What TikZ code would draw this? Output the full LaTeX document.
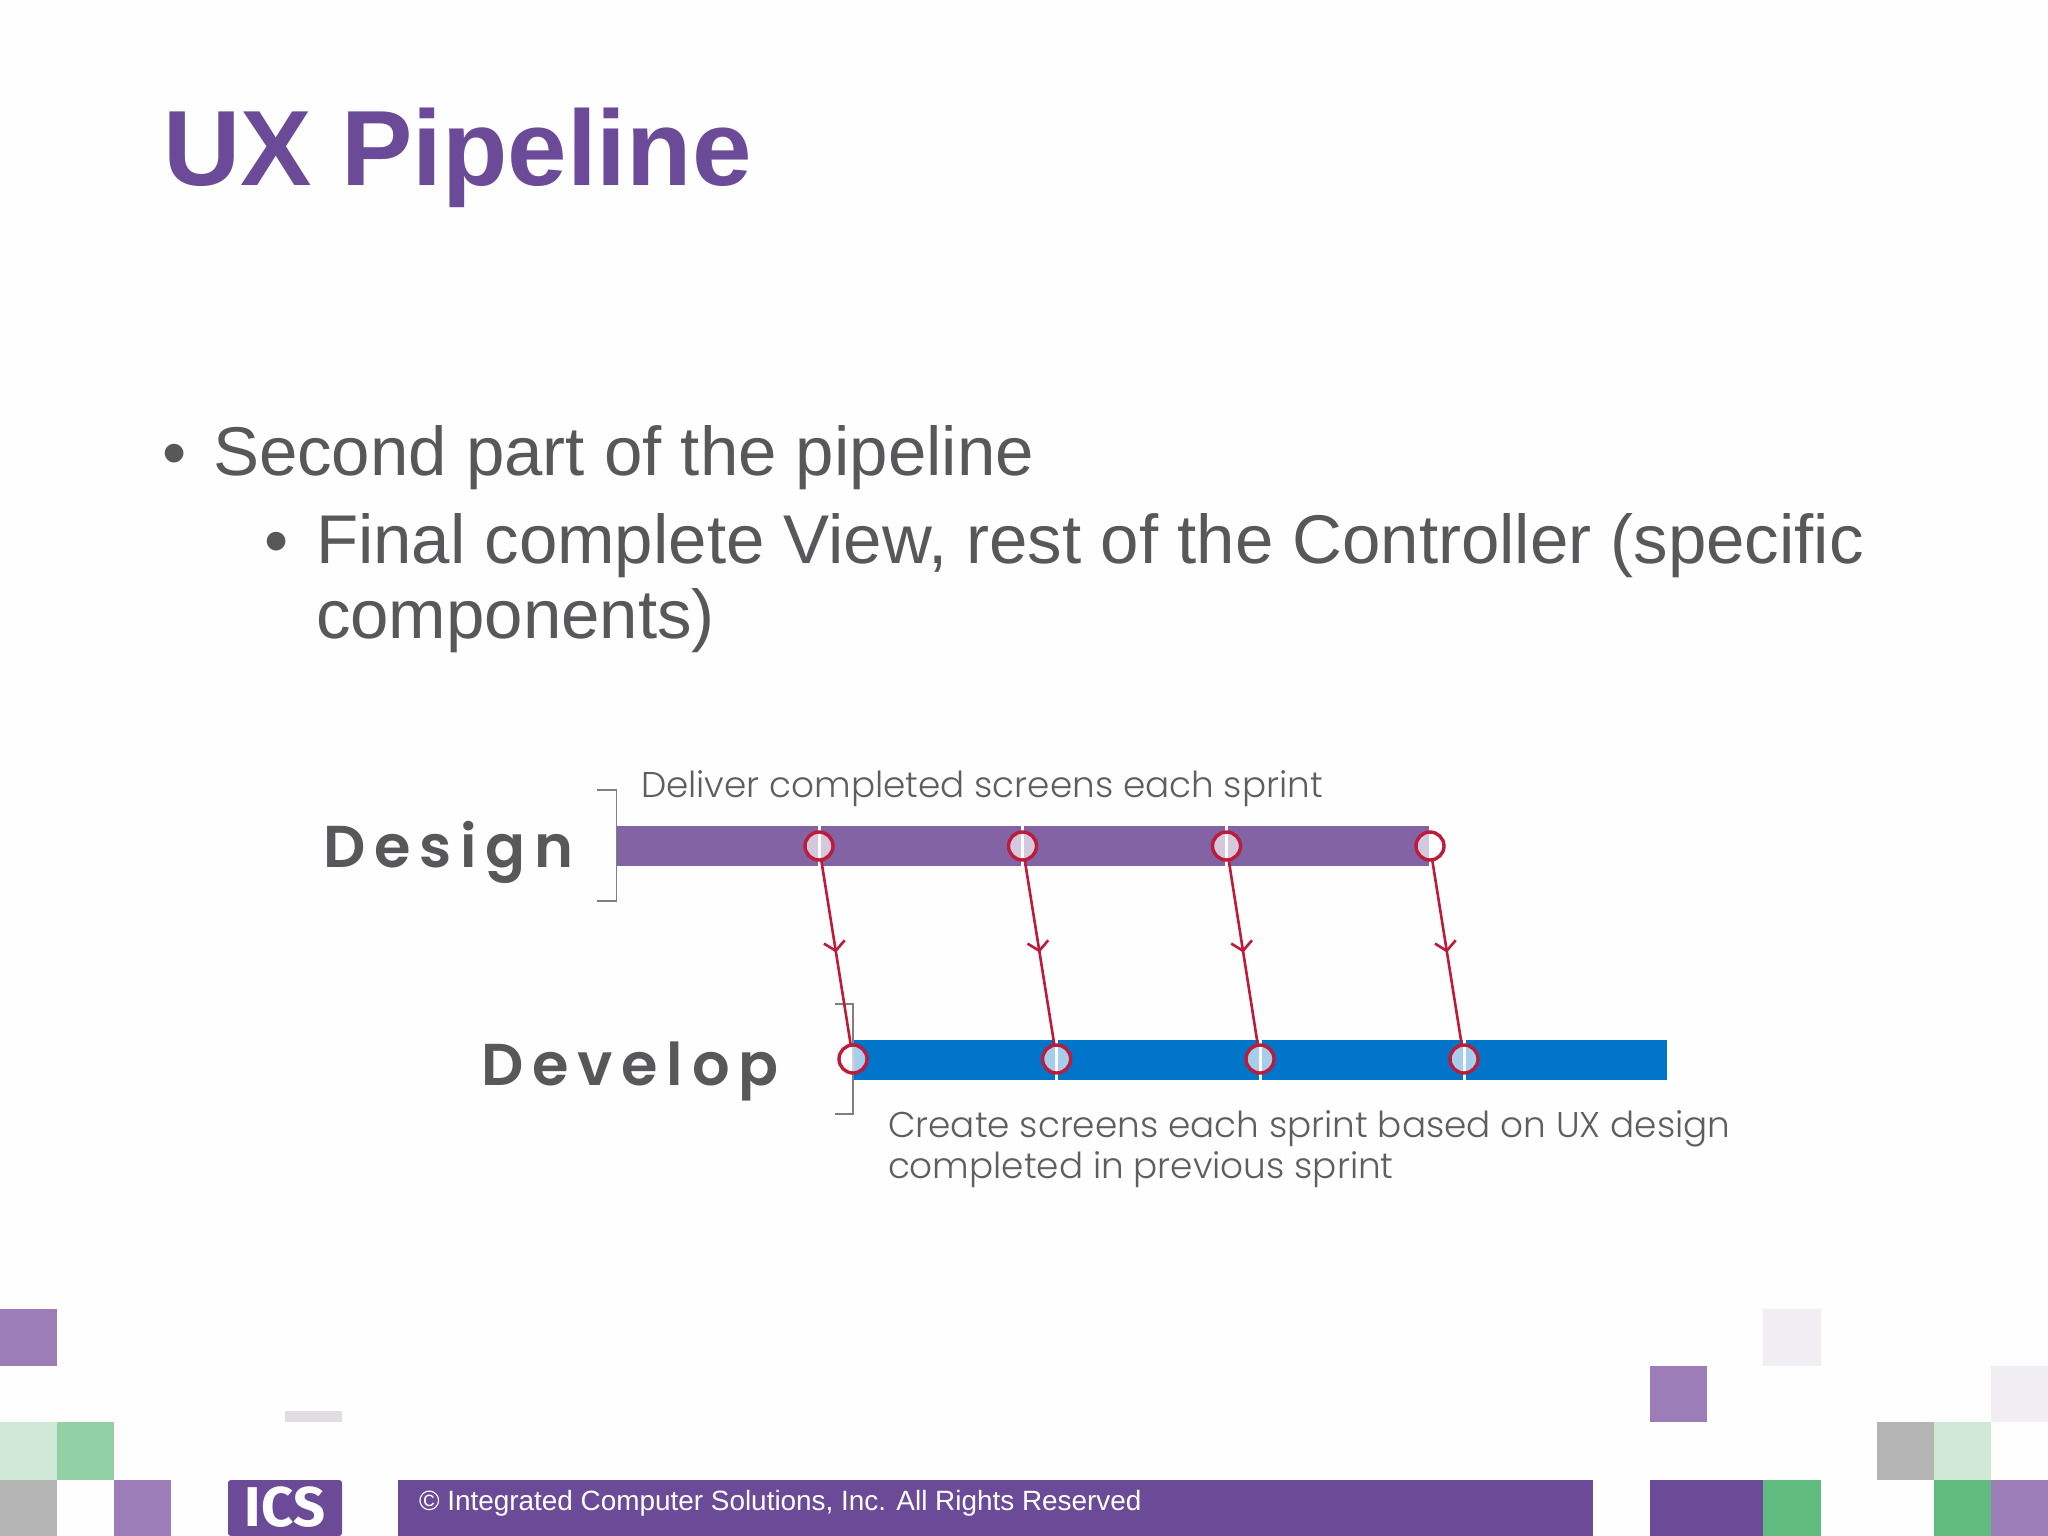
\documentclass[tikz,border=0pt]{standalone}
\usepackage{fontspec}
\setmainfont{Liberation Sans}
\newfontfamily\chartfont{Poppins Light}
\newfontfamily\trackfont[LetterSpace=15]{Poppins SemiBold}
\newfontfamily\logofont{Fira Sans}
\usetikzlibrary{arrows.meta,decorations.markings}
\definecolor{icspurple}{HTML}{6B4A98}
\definecolor{softpurple}{HTML}{9C7DB7}
\definecolor{barpurple}{HTML}{8263A3}
\definecolor{barblue}{HTML}{0075C9}
\definecolor{icsgreen}{HTML}{60BD7F}
\definecolor{midgreen}{HTML}{92D1A6}
\definecolor{palegreen}{HTML}{CFE9D6}
\definecolor{midgray}{HTML}{B4B4B5}
\definecolor{palegray}{HTML}{F0EEF2}
\definecolor{bodygray}{HTML}{58585A}
\definecolor{notegray}{HTML}{5E5E62}
\definecolor{pagewhite}{HTML}{FEFEFE}
\definecolor{handoffred}{HTML}{BE1A3A}
\begin{document}
\begin{tikzpicture}
  [x=1pt,y=-1pt,
   every node/.style={inner sep=0,outer sep=0},
   title/.style={anchor=base west,text=icspurple,font=\fontsize{107}{107}\selectfont\bfseries},
   body/.style={anchor=base west,text=bodygray,font=\fontsize{69}{69}\selectfont},
   note/.style={anchor=base west,text=notegray,font=\fontsize{35.8}{35.8}\chartfont},
   track/.style={anchor=base west,text=bodygray,font=\fontsize{59}{59}\trackfont},
   sprint/.style={circle,draw=handoffred,line width=3.4,fill=white,fill opacity=.65,minimum size=28},
   bracket/.style={draw=gray,line width=1.7},
   handoff/.style={draw=handoffred,line width=2.6,postaction={decorate},
     decoration={markings,mark=at position .5 with {\arrow{Straight Barb[length=9pt,width=21pt]}}}}]

  \useasboundingbox (0,0) rectangle (2048,1536);
  \fill[pagewhite] (0,0) rectangle (2048,1536);

  \node[title] (heading) at (163,185) {UX Pipeline};
  \node[body] (dot1) at (162,476) {•};
  \node[body] (line1) at (213,475) {Second part of the pipeline};
  \node[body] (dot2) at (264,564) {•};
  \node[body] (line2) at (316,563) {Final complete View, rest of the Controller (specific};
  \node[body] (line3) at (316,638) {components)};

  \fill[barpurple] (616.5,825.5) rectangle (1429,866);
  \fill[barblue] (853,1040) rectangle (1666.5,1080);
  \foreach \x in {819,1022.5,1226.5}
    \draw[white,line width=3] (\x,825.5) -- (\x,866);
  \foreach \x in {1056.6,1260,1464}
    \draw[white,line width=3] (\x,1040) -- (\x,1080);
  \draw[bracket] (597,790) -- (616.5,790) -- (616.5,901) -- (597,901);
  \draw[bracket] (835,1004) -- (853,1004) -- (853,1114) -- (835,1114);

  \node[track] (design) at (323,867) {Design};
  \node[track] (develop) at (481,1085) {Develop};
  \node[note] (deliver) at (641,797) {Deliver completed screens each sprint};
  \node[note] (create) at (888,1137) {Create screens each sprint based on UX design};
  \node[note] (previous) at (888,1178) {completed in previous sprint};

  \foreach \i/\x in {1/819,2/1022.5,3/1226.5,4/1430}
    \node[sprint] (d\i) at (\x,846) {};
  \foreach \i/\x in {1/853,2/1056.6,3/1260,4/1464}
    \node[sprint] (e\i) at (\x,1059) {};
  \foreach \i in {1,...,4}
    \path (d\i) edge[handoff] (e\i);

  \foreach \xa/\ya/\xb/\yb/\c in {0/1309/57/1366/softpurple,0/1422/57/1480/palegreen,
      57/1422/114/1480/midgreen,0/1480/57/1536/midgray,114/1480/171/1536/softpurple,
      285/1411/342/1422/palegray!85!gray,1650/1366/1707/1422/softpurple,
      1763/1309/1821/1366/palegray,1991/1366/2048/1422/palegray,
      1877/1422/1934/1480/midgray,1934/1422/1991/1480/palegreen,
      1934/1480/1991/1536/icsgreen,1991/1480/2048/1536/softpurple,
      1650/1480/1763/1536/icspurple,1763/1480/1821/1536/icsgreen,
      398/1480/1593/1536/icspurple}
    \fill[\c] (\xa,\ya) rectangle (\xb,\yb);

  \fill[icspurple,rounded corners=3] (228,1480) rectangle (342,1536);
  \node[text=white,font=\fontsize{56}{56}\logofont\bfseries] (logo) at (285,1507) {ICS};
  \node[anchor=base west,text=white,font=\fontsize{27.9}{27.9}\selectfont] (rights) at (419,1510)
    {© Integrated Computer Solutions, Inc. All Rights Reserved};

\end{tikzpicture}
\end{document}
